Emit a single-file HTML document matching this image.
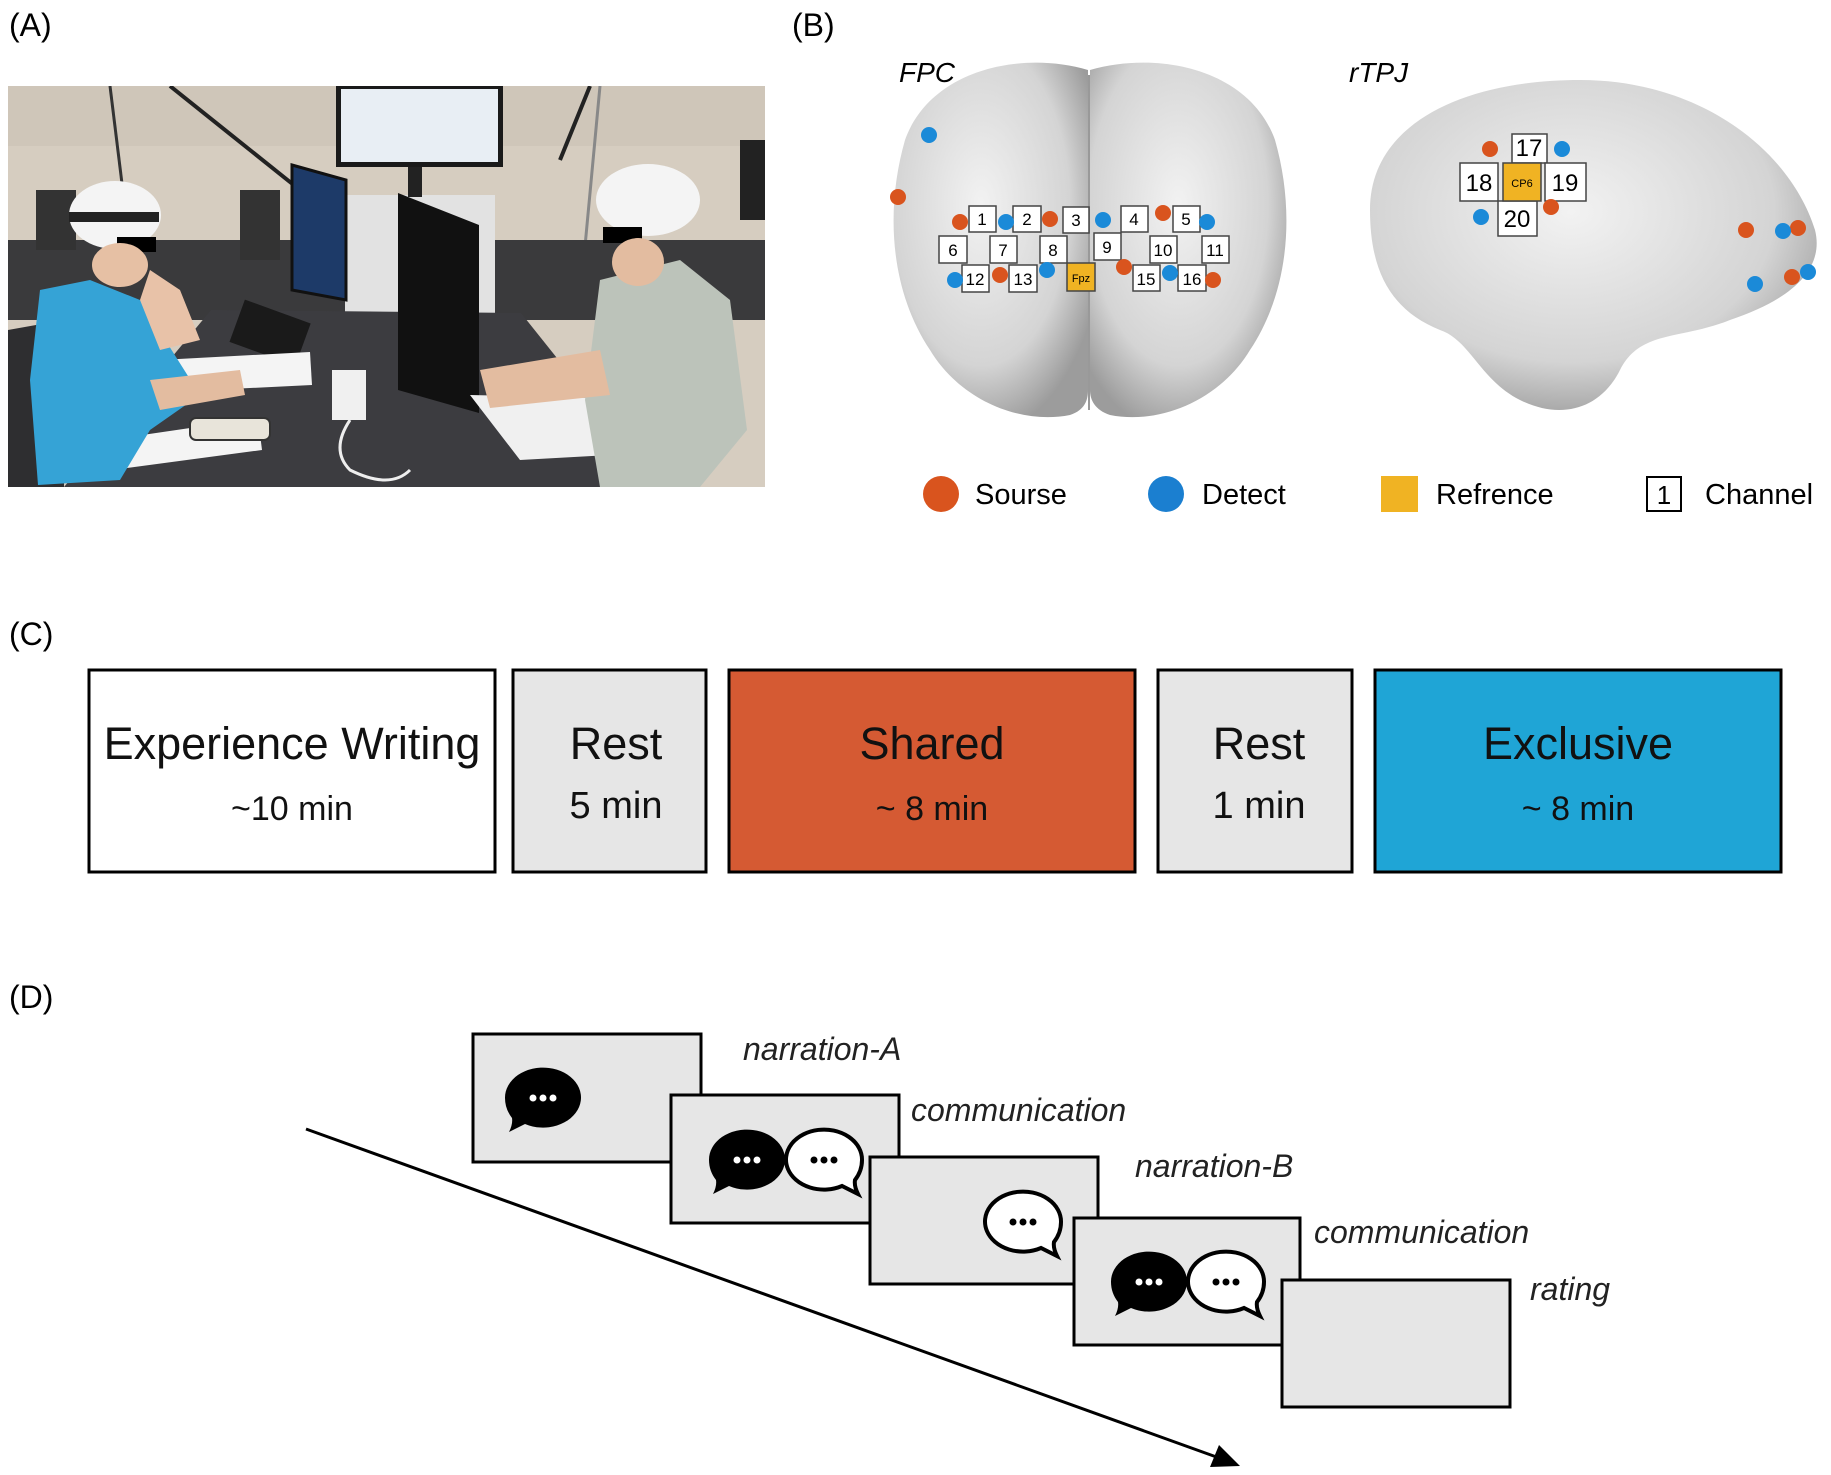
<!DOCTYPE html>
<html><head><meta charset="utf-8"><style>
html,body{margin:0;padding:0;background:#fff;}
svg{display:block;}
text{font-family:"Liberation Sans",Arial,sans-serif;}
</style></head><body>
<svg width="1831" height="1475" viewBox="0 0 1831 1475" xmlns="http://www.w3.org/2000/svg">
<defs>
<radialGradient id="bg" cx="45%" cy="40%" r="65%">
<stop offset="0" stop-color="#f2f2f2"/><stop offset="0.7" stop-color="#d4d4d4"/><stop offset="1" stop-color="#9c9c9c"/>
</radialGradient>
<g id="bblk"><path d="M-38,0 a38,30 0 1,1 20,26 l-16,8 q4,-8 3,-14 q-7,-9 -7,-20z" fill="#000"/><circle cx="-10" cy="0" r="3.5" fill="#fff"/><circle cx="0" cy="0" r="3.5" fill="#fff"/><circle cx="10" cy="0" r="3.5" fill="#fff"/></g>
<g id="bwht"><path d="M38,0 a38,30 0 1,0 -20,26 l16,8 q-4,-8 -3,-14 q7,-9 7,-20z" fill="#fff" stroke="#000" stroke-width="4"/><circle cx="-10" cy="0" r="3.5" fill="#000"/><circle cx="0" cy="0" r="3.5" fill="#000"/><circle cx="10" cy="0" r="3.5" fill="#000"/></g>
</defs>

<text x="9" y="36" font-size="32">(A)</text>
<text x="792" y="36" font-size="32">(B)</text>
<text x="9" y="645" font-size="32">(C)</text>
<text x="9" y="1008" font-size="32">(D)</text>

<g>
<clipPath id="pc"><rect x="8" y="86" width="757" height="401"/></clipPath>
<g clip-path="url(#pc)">
<rect x="8" y="86" width="757" height="401" fill="#d6cdc0"/>
<rect x="8" y="86" width="757" height="60" fill="#cfc6b9"/>
<line x1="110" y1="86" x2="140" y2="330" stroke="#333" stroke-width="3"/>
<line x1="170" y1="86" x2="300" y2="190" stroke="#222" stroke-width="4"/>
<line x1="590" y1="86" x2="560" y2="160" stroke="#222" stroke-width="4"/>
<line x1="600" y1="86" x2="580" y2="300" stroke="#888" stroke-width="3"/>
<rect x="8" y="240" width="757" height="80" fill="#3a3a3c"/>
<rect x="36" y="190" width="40" height="60" fill="#333"/>
<rect x="240" y="190" width="40" height="70" fill="#333"/>
<rect x="740" y="140" width="25" height="80" fill="#222"/>
<rect x="345" y="195" width="150" height="120" fill="#e2e2e2"/>
<rect x="336" y="85" width="167" height="82" fill="#1a1a1a"/>
<rect x="341" y="89" width="157" height="73" fill="#e8eef4"/>
<rect x="408" y="167" width="14" height="30" fill="#222"/>
<polygon points="64,487 211,310 521,313 660,487" fill="#3c3c40"/>
<polygon points="8,330 64,320 64,487 8,487" fill="#2e2e30"/>
<polygon points="292,165 346,180 346,300 292,290" fill="#1d3a68" stroke="#111" stroke-width="3"/>
<polygon points="398,193 479,225 479,413 398,390" fill="#111"/>
<rect x="236" y="310" width="70" height="45" fill="#1a1a1a" transform="rotate(20 270 330)"/>
<polygon points="160,360 310,352 312,385 168,392" fill="#f4f4f4"/>
<polygon points="108,440 258,418 262,450 112,470" fill="#f4f4f4"/>
<rect x="190" y="418" width="80" height="22" rx="6" fill="#e8e4da" stroke="#333" stroke-width="2"/>
<rect x="332" y="370" width="34" height="50" fill="#f0f0f0"/>
<polygon points="470,395 600,398 610,455 520,460" fill="#f0f0f0"/>
<path d="M350,420 q-20,30 0,50 q40,20 60,0" fill="none" stroke="#eee" stroke-width="3"/>
<polygon points="40,290 90,280 140,300 200,395 150,430 120,480 38,485 30,380" fill="#35a3d6"/>
<polygon points="150,270 180,290 200,340 160,350 140,300" fill="#e8c2a8"/>
<polygon points="150,380 240,370 245,395 160,410" fill="#e3bca0"/>
<ellipse cx="115" cy="215" rx="46" ry="34" fill="#f4f4f4"/>
<rect x="69" y="212" width="90" height="10" fill="#222"/>
<rect x="117" y="237" width="39" height="15" fill="#000"/>
<ellipse cx="120" cy="265" rx="28" ry="22" fill="#e6c0a4"/>
<polygon points="600,280 680,260 730,300 747,430 700,487 600,487 585,400" fill="#bcc3ba"/>
<polygon points="480,370 600,350 610,395 490,408" fill="#e3bca0"/>
<ellipse cx="648" cy="200" rx="52" ry="36" fill="#f4f4f4"/>
<rect x="603" y="227" width="39" height="16" fill="#000"/>
<ellipse cx="638" cy="262" rx="26" ry="24" fill="#e3bca0"/>
</g>
</g>

<text x="899" y="82" font-size="28" font-style="italic">FPC</text>
<text x="1349" y="82" font-size="28" font-style="italic">rTPJ</text>
<path d="M1088,70 C1020,50 930,70 905,140 C885,210 890,290 930,350 C960,400 1020,425 1070,415 C1085,410 1088,400 1088,390 Z" fill="url(#bg)"/>
<path d="M1090,70 C1160,50 1250,70 1275,140 C1295,210 1290,290 1250,350 C1220,400 1160,425 1110,415 C1095,410 1090,400 1090,390 Z" fill="url(#bg)"/>
<line x1="1089" y1="75" x2="1089" y2="410" stroke="#999" stroke-width="2"/>
<path d="M1370,210 C1370,120 1470,80 1580,80 C1700,80 1790,150 1815,230 C1825,270 1790,300 1730,320 C1680,340 1640,330 1620,370 C1600,410 1560,420 1520,400 C1480,380 1470,340 1440,330 C1390,310 1370,270 1370,210 Z" fill="url(#bg)"/>

<g stroke="#444" stroke-width="1.5" font-size="18" text-anchor="middle">
<g fill="#fff">
<rect x="969" y="206" width="27" height="26"/><rect x="1013" y="206" width="28" height="26"/><rect x="1063" y="207" width="26" height="26"/><rect x="1121" y="206" width="27" height="26"/><rect x="1173" y="206" width="27" height="26"/>
<rect x="939" y="236" width="28" height="27"/><rect x="990" y="236" width="27" height="27"/><rect x="1040" y="236" width="27" height="27"/><rect x="1094" y="233" width="27" height="27"/><rect x="1150" y="236" width="27" height="27"/><rect x="1202" y="236" width="27" height="27"/>
<rect x="962" y="265" width="27" height="27"/><rect x="1009" y="265" width="28" height="27"/><rect x="1133" y="265" width="27" height="26"/><rect x="1178" y="265" width="28" height="26"/>
<rect x="1512" y="134" width="35" height="29"/><rect x="1460" y="163" width="38" height="38"/><rect x="1545" y="163" width="41" height="38"/><rect x="1498" y="201" width="39" height="35"/>
</g>
<rect x="1067" y="263" width="28" height="28" fill="#f0b323"/>
<rect x="1503" y="163" width="38" height="38" fill="#f0b323"/>
</g>
<g font-size="17" text-anchor="middle" fill="#000">
<text x="982" y="225">1</text><text x="1027" y="225">2</text><text x="1076" y="226">3</text><text x="1134" y="225">4</text><text x="1186" y="225">5</text>
<text x="953" y="256">6</text><text x="1003" y="256">7</text><text x="1053" y="256">8</text><text x="1107" y="253">9</text><text x="1163" y="256">10</text><text x="1215" y="256">11</text>
<text x="975" y="285">12</text><text x="1023" y="285">13</text><text x="1146" y="285">15</text><text x="1192" y="285">16</text>
<text x="1081" y="282" font-size="11">Fpz</text>
<text x="1529" y="156" font-size="24">17</text><text x="1479" y="191" font-size="24">18</text><text x="1565" y="191" font-size="24">19</text><text x="1517" y="227" font-size="24">20</text>
<text x="1522" y="187" font-size="11">CP6</text>
</g>
<g fill="#d9541e">
<circle cx="898" cy="197" r="8"/><circle cx="960" cy="222" r="8"/><circle cx="1050" cy="219" r="8"/><circle cx="1163" cy="213" r="8"/><circle cx="1000" cy="275" r="8"/><circle cx="1124" cy="267" r="8"/><circle cx="1213" cy="280" r="8"/>
<circle cx="1490" cy="149" r="8"/><circle cx="1551" cy="207" r="8"/><circle cx="1746" cy="230" r="8"/><circle cx="1798" cy="228" r="8"/><circle cx="1792" cy="277" r="8"/>
</g>
<g fill="#1b8ad8">
<circle cx="929" cy="135" r="8"/><circle cx="1006" cy="222" r="8"/><circle cx="1103" cy="220" r="8"/><circle cx="1207" cy="222" r="8"/><circle cx="955" cy="280" r="8"/><circle cx="1047" cy="270" r="8"/><circle cx="1170" cy="273" r="8"/>
<circle cx="1562" cy="149" r="8"/><circle cx="1481" cy="217" r="8"/><circle cx="1783" cy="231" r="8"/><circle cx="1808" cy="272" r="8"/><circle cx="1755" cy="284" r="8"/>
</g>

<circle cx="941" cy="494" r="18" fill="#d9541e"/>
<text x="975" y="504" font-size="29">Sourse</text>
<circle cx="1166" cy="494" r="18" fill="#1b7fd0"/>
<text x="1202" y="504" font-size="29">Detect</text>
<rect x="1381" y="476" width="37" height="36" fill="#f0b323"/>
<text x="1436" y="504" font-size="29">Refrence</text>
<rect x="1647" y="477" width="34" height="34" fill="#fff" stroke="#000" stroke-width="2"/>
<text x="1664" y="504" font-size="26" text-anchor="middle">1</text>
<text x="1705" y="504" font-size="29">Channel</text>

<g stroke="#000" stroke-width="3">
<rect x="89" y="670" width="406" height="202" fill="#fff"/>
<rect x="513" y="670" width="193" height="202" fill="#e6e6e6"/>
<rect x="729" y="670" width="406" height="202" fill="#d55a33"/>
<rect x="1158" y="670" width="194" height="202" fill="#e6e6e6"/>
<rect x="1375" y="670" width="406" height="202" fill="#1fa5d6"/>
</g>
<g text-anchor="middle" fill="#111">
<text x="292" y="759" font-size="45">Experience Writing</text>
<text x="292" y="820" font-size="34">~10 min</text>
<text x="616" y="759" font-size="45">Rest</text>
<text x="616" y="818" font-size="38">5 min</text>
<text x="932" y="759" font-size="45">Shared</text>
<text x="932" y="820" font-size="34">~ 8 min</text>
<text x="1259" y="759" font-size="45">Rest</text>
<text x="1259" y="818" font-size="38">1 min</text>
<text x="1578" y="759" font-size="45">Exclusive</text>
<text x="1578" y="820" font-size="34">~ 8 min</text>
</g>

<line x1="306" y1="1129" x2="1222" y2="1459" stroke="#000" stroke-width="3"/>
<polygon points="1240,1466 1210,1467 1219,1445" fill="#000"/>
<g stroke="#000" stroke-width="3" fill="#e6e6e6">
<rect x="473" y="1034" width="228" height="128"/>
<rect x="671" y="1095" width="228" height="128"/>
<rect x="870" y="1157" width="228" height="127"/>
<rect x="1074" y="1218" width="226" height="127"/>
<rect x="1282" y="1280" width="228" height="127"/>
</g>
<use href="#bblk" x="543" y="1098"/>
<use href="#bblk" x="747" y="1160"/>
<use href="#bwht" x="824" y="1160"/>
<use href="#bwht" x="1023" y="1222"/>
<use href="#bblk" x="1149" y="1282"/>
<use href="#bwht" x="1226" y="1282"/>
<g font-size="32" font-style="italic" fill="#222">
<text x="743" y="1060">narration-A</text>
<text x="911" y="1121">communication</text>
<text x="1135" y="1177">narration-B</text>
<text x="1314" y="1243">communication</text>
<text x="1530" y="1300">rating</text>
</g>
</svg>
</body></html>
